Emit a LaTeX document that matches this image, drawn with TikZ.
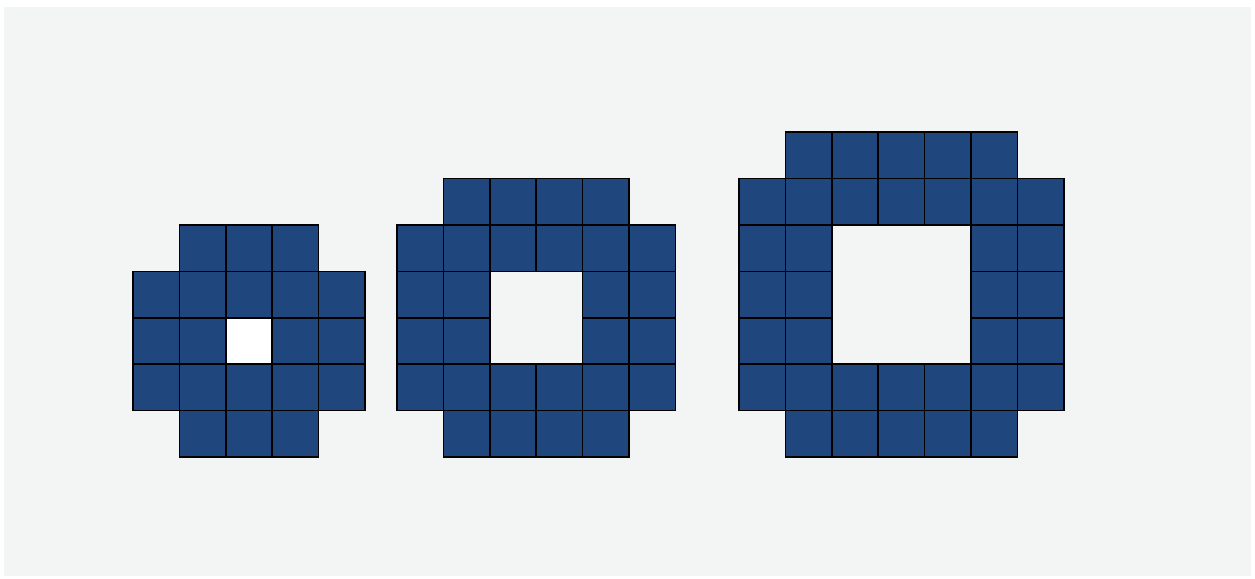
\documentclass[tikz,border=0pt]{standalone}
\definecolor{cellblue}{RGB}{31,71,125}
\definecolor{bgcol}{RGB}{243,245,244}
\begin{document}
\begin{tikzpicture}[x=1pt,y=-1pt,
  cell/.style={fill=cellblue,draw=black,line width=1.6pt},
  holecell/.style={fill=white,draw=black,line width=1.6pt}]
\useasboundingbox (0,0) rectangle (1255,578);
\fill[white] (0,0) rectangle (1255,578);
\fill[bgcol] (4,7) rectangle (1251,576);
\def\s{46.4}
\foreach \n/\xo in {5/133,6/397,7/739}{
  \pgfmathtruncatemacro{\last}{\n-1}
  \pgfmathsetmacro{\yo}{457-\n*\s}
  \foreach \i in {0,...,\last}{
    \foreach \j in {0,...,\last}{
      \pgfmathtruncatemacro{\corner}{((\i==0)||(\i==\last))&&((\j==0)||(\j==\last))}
      \pgfmathtruncatemacro{\hole}{(\i>=2)&&(\i<=\last-2)&&(\j>=2)&&(\j<=\last-2)}
      \ifnum\corner=0
        \ifnum\hole=0
          \draw[cell] ({\xo+\i*\s},{\yo+\j*\s}) rectangle ++(\s,\s);
        \else
          \ifnum\n=5
            \draw[holecell] ({\xo+\i*\s},{\yo+\j*\s}) rectangle ++(\s,\s);
          \fi
        \fi
      \fi
    }
  }
}
\end{tikzpicture}
\end{document}
